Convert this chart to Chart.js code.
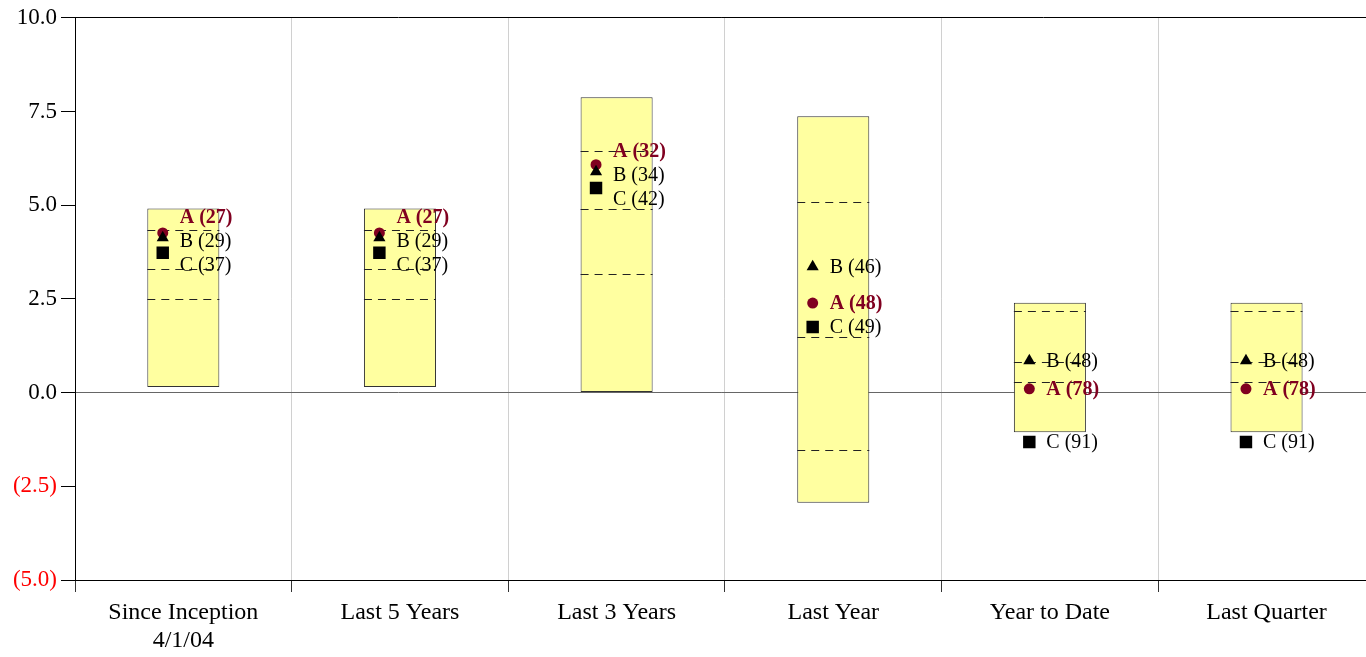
<!DOCTYPE html>
<html><head><meta charset="utf-8">
<script src="https://cdn.jsdelivr.net/npm/chart.js@4.4.1/dist/chart.umd.min.js"></script>
<style>html,body{margin:0;padding:0;overflow:hidden;background:#fff}#wrap{width:1375px;height:657px;position:relative}</style>
</head><body><div id="wrap"><canvas id="c"></canvas></div>
<script>
const categories = [["Since Inception","4/1/04"],"Last 5 Years","Last 3 Years","Last Year","Year to Date","Last Quarter"];
const rangeHigh = [4.91, 4.91, 7.88, 7.37, 2.40, 2.40];
const rangeLow  = [0.15, 0.15, 0.00, -2.94, -1.06, -1.06];
const upperDash = [4.35, 4.35, 6.44, 5.08, 2.17, 2.17];
const midDash   = [3.30, 3.30, 4.89, 1.49, 0.82, 0.82];
const lowerDash = [2.51, 2.51, 3.17, -1.53, 0.27, 0.27];
const seriesA = [4.26, 4.26, 6.08, 2.39, 0.10, 0.10];
const seriesB = [4.13, 4.13, 5.89, 3.36, 0.85, 0.85];
const seriesC = [3.73, 3.73, 5.46, 1.75, -1.32, -1.32];
const rankA = [27, 27, 32, 48, 78, 78];
const rankB = [29, 29, 34, 46, 48, 48];
const rankC = [37, 37, 42, 49, 91, 91];
const yMin = -5, yMax = 10, yStep = 2.5;

const FONT = "'Liberation Serif', 'Times New Roman', serif";
const MAROON = '#800020';
const MARKER_SHIFT = 0.095;   // marker offset left of category centre (category units)
const X_MIN = -0.5, X_MAX = 5.46; // last category is slightly cut by the right edge

const isCat = v => Math.abs(v - Math.round(v)) < 1e-6;

const dashPlugin = {
  id: 'dashes',
  afterDatasetDraw(chart, args) {
    if (args.index !== 0) return;
    const ctx = chart.ctx, y = chart.scales.y, meta = chart.getDatasetMeta(0);
    ctx.save();
    ctx.setLineDash([8, 6]);
    ctx.lineWidth = 1;
    ctx.strokeStyle = '#222';
    meta.data.forEach((bar, i) => {
      const half = bar.width / 2;
      [upperDash[i], midDash[i], lowerDash[i]].forEach(v => {
        const py = Math.round(y.getPixelForValue(v)) + 0.5;
        ctx.beginPath();
        ctx.moveTo(bar.x - half, py);
        ctx.lineTo(bar.x + half, py);
        ctx.stroke();
      });
    });
    ctx.restore();
  }
};

const labelPlugin = {
  id: 'mlabels',
  afterDatasetsDraw(chart) {
    const ctx = chart.ctx;
    const GAP = 24;
    ctx.save();
    ctx.textBaseline = 'middle';
    ctx.textAlign = 'left';
    categories.forEach((c, i) => {
      const items = [
        {ds: 1, text: 'A (' + rankA[i] + ')', bold: true, color: MAROON},
        {ds: 2, text: 'B (' + rankB[i] + ')', bold: false, color: '#000'},
        {ds: 3, text: 'C (' + rankC[i] + ')', bold: false, color: '#000'}
      ].map(it => {
        const p = chart.getDatasetMeta(it.ds).data[i];
        return Object.assign(it, {x: p.x, y: p.y});
      }).sort((a, b) => a.y - b.y);
      let clusters = items.map(it => ({items: [it], center: it.y}));
      let merged = true;
      while (merged) {
        merged = false;
        for (let k = 0; k < clusters.length - 1; k++) {
          const a = clusters[k], b = clusters[k + 1];
          const aBottom = a.center + (a.items.length - 1) / 2 * GAP;
          const bTop = b.center - (b.items.length - 1) / 2 * GAP;
          if (bTop - aBottom < GAP - 0.01) {
            const all = a.items.concat(b.items);
            const center = all.reduce((s, it) => s + it.y, 0) / all.length;
            clusters.splice(k, 2, {items: all, center});
            merged = true;
            break;
          }
        }
      }
      clusters.forEach(cl => {
        cl.items.forEach((it, k) => {
          const ly = cl.center + (k - (cl.items.length - 1) / 2) * GAP;
          ctx.font = (it.bold ? 'bold ' : '') + '20px ' + FONT;
          ctx.fillStyle = it.color;
          ctx.fillText(it.text, it.x + 17, ly + 1);
        });
      });
    });
    ctx.restore();
  }
};

const pts = arr => arr.map((v, i) => ({x: i - MARKER_SHIFT, y: v}));

new Chart(document.getElementById('c'), {
  type: 'bar',
  data: {
    datasets: [
      {
        type: 'bar',
        data: rangeLow.map((lo, i) => ({x: i, y: [lo, rangeHigh[i]]})),
        backgroundColor: '#ffffa0',
        borderColor: '#333',
        borderWidth: 1,
        borderSkipped: false,
        grouped: false,
        barPercentage: 0.665,   // ruler spacing is half a category (boundary ticks)
        categoryPercentage: 1,
        order: 10
      },
      {
        type: 'line', data: pts(seriesA), showLine: false,
        pointStyle: 'circle', pointRadius: 5.5, pointBackgroundColor: MAROON,
        pointBorderColor: MAROON, pointBorderWidth: 0, order: 3
      },
      {
        type: 'line', data: pts(seriesB), showLine: false,
        pointStyle: 'triangle', pointRadius: 7, pointBackgroundColor: '#000',
        pointBorderColor: '#000', pointBorderWidth: 0, order: 2
      },
      {
        type: 'line', data: pts(seriesC), showLine: false,
        pointStyle: 'rect', pointRadius: 8.8, pointBackgroundColor: '#000',
        pointBorderColor: '#000', pointBorderWidth: 0, order: 1
      }
    ]
  },
  options: {
    responsive: true,
    maintainAspectRatio: false,
    animation: false,
    events: [],
    layout: {padding: {top: 16, left: 0, right: 0, bottom: 0}},
    plugins: {legend: {display: false}, tooltip: {enabled: false}},
    scales: {
      x: {
        type: 'linear',
        min: X_MIN, max: X_MAX,
        offset: false,
        afterBuildTicks: s => {
          const t = [];
          categories.forEach((c, i) => { t.push({value: i - 0.5}); t.push({value: i}); });
          s.ticks = t;
        },
        grid: {
          offset: false,
          color: c => isCat(c.tick.value) ? 'rgba(0,0,0,0)' : '#d0d0d0',
          tickColor: c => isCat(c.tick.value) ? 'rgba(0,0,0,0)' : '#333',
          tickLength: 12, lineWidth: 1
        },
        border: {color: '#000', width: 1},
        ticks: {
          color: '#000', font: {family: FONT, size: 24}, padding: 6,
          maxRotation: 0, minRotation: 0, autoSkip: false,
          callback: v => isCat(v) ? categories[Math.round(v)] : ''
        },
        afterFit: s => { s.height = 77; s.paddingLeft = 0; s.paddingRight = 0; }
      },
      y: {
        min: yMin, max: yMax,
        ticks: {
          stepSize: yStep,
          padding: 4,
          font: {family: FONT, size: 23},
          color: c => c.tick.value < 0 ? '#ff0000' : '#000',
          callback: v => v < 0 ? '(' + Math.abs(v).toFixed(1) + ')' : v.toFixed(1)
        },
        grid: {
          color: c => c.tick.value === yMax ? '#000' : (c.tick.value === 0 ? '#666' : 'rgba(0,0,0,0)'),
          tickColor: '#000',
          tickLength: 14
        },
        border: {color: '#000', width: 1},
        afterFit: s => { s.width = 75; }
      }
    }
  },
  plugins: [dashPlugin, labelPlugin]
});
</script>
</body></html>
